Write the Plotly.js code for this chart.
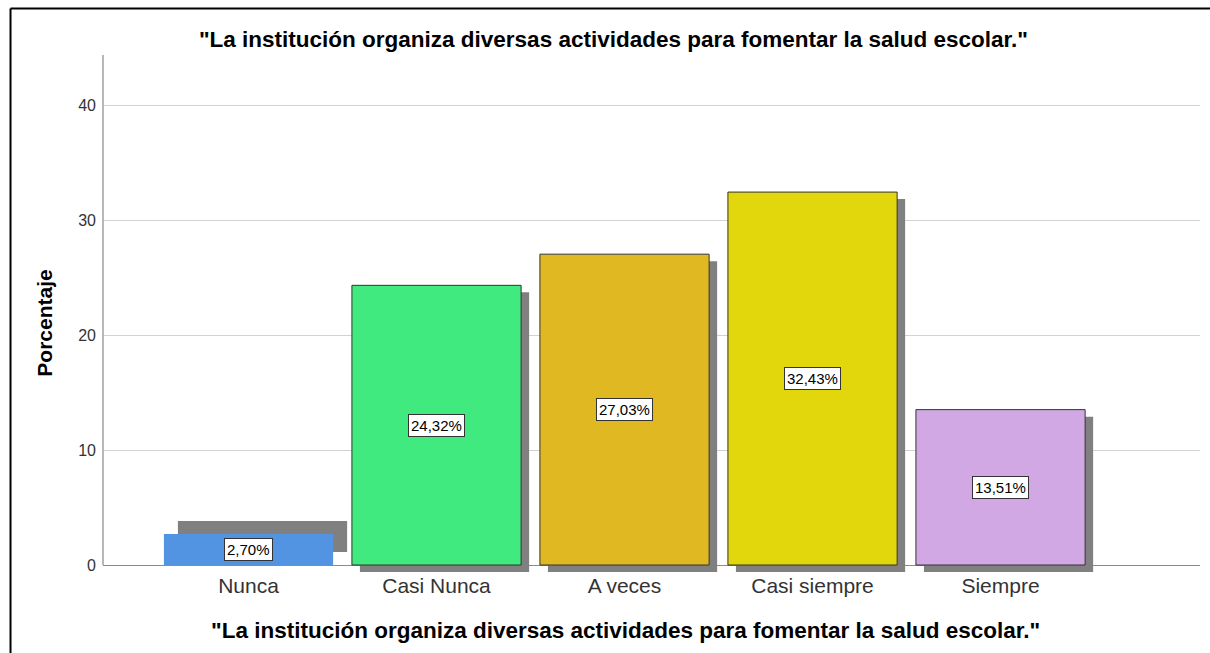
<!DOCTYPE html>
<html>
<head>
<meta charset="utf-8">
<script src="https://cdn.plot.ly/plotly-3.0.1.min.js"></script>
<style>
  html, body { margin: 0; padding: 0; background: #ffffff; }
  #chart { width: 1210px; height: 653px; }
</style>
</head>
<body>
<div id="chart"></div>
<script>
// ---- data ----
const categories = ["Nunca", "Casi Nunca", "A veces", "Casi siempre", "Siempre"];
const percentages = [2.70, 24.32, 27.03, 32.43, 13.51];
const valueLabels = ["2,70%", "24,32%", "27,03%", "32,43%", "13,51%"];
const yTickValues = [0, 10, 20, 30, 40];
const titleText = "\"La institución organiza diversas actividades para fomentar la salud escolar.\"";
const yTitleText = "Porcentaje";

// ---- style ----
const FONT = "Liberation Sans, Arial, sans-serif";
const barColors = ["#5294E2", "#40EA7E", "#E0B922", "#E2D60C", "#D1A8E4"];
const barOutlineWidths = [0, 1, 1, 1, 1];
const barWidth = 0.9;
const pxPerCat = 188;      // approx pixels per category slot
const pxPerUnit = 11.5;    // approx pixels per percentage point
// shadow displacement in pixels (dx right, dy down) per bar, as drawn in the reference
const shadowDx = [14, 8, 8, 8, 8];
const shadowDy = [-13, 7, 7, 7, 7];

const shadowOffsets = shadowDx.map(d => -barWidth / 2 + d / pxPerCat);
const shadowBases = shadowDy.map(d => -d / pxPerUnit);

const shadowTrace = {
  type: "bar",
  x: categories,
  y: percentages,
  base: shadowBases,
  offset: shadowOffsets,
  width: barWidth,
  marker: { color: "#808080", line: { width: 0 } },
  hoverinfo: "skip",
  showlegend: false
};

const mainTrace = {
  type: "bar",
  x: categories,
  y: percentages,
  width: barWidth,
  marker: { color: barColors, line: { color: "#333333", width: barOutlineWidths } },
  showlegend: false
};

const annotations = categories.map((c, i) => ({
  x: c, y: percentages[i] / 2, xref: "x", yref: "y",
  text: valueLabels[i], showarrow: false,
  font: { family: FONT, size: 15, color: "#000000" },
  bgcolor: "#ffffff", bordercolor: "#333333", borderwidth: 1, borderpad: 2
}));

annotations.push({
  text: "<b>" + titleText + "</b>", showarrow: false,
  xref: "paper", yref: "paper", x: 0.476, y: -0.106, xanchor: "center", yanchor: "middle",
  font: { family: FONT, size: 22.5, color: "#000000" }
});
annotations.push({
  text: "<b>" + yTitleText + "</b>", showarrow: false, textangle: -90,
  xref: "paper", yref: "paper", x: -0.053, y: 0.485, xanchor: "center", yanchor: "middle",
  font: { family: FONT, size: 21, color: "#000000" }
});

const layout = {
  width: 1210, height: 653,
  margin: { l: 103, r: 10, t: 55, b: 78, pad: 0 },
  paper_bgcolor: "#ffffff", plot_bgcolor: "#ffffff",
  barmode: "overlay",
  title: {
    text: "<b>" + titleText + "</b>",
    x: 0.507, xref: "container", xanchor: "center",
    y: 1 - 39 / 653, yref: "container", yanchor: "middle",
    font: { family: FONT, size: 22.5, color: "#000000" }
  },
  xaxis: {
    type: "category",
    range: [-0.774, 5.061],
    showgrid: false, showline: false, zeroline: false,
    ticks: "", ticklabelstandoff: -4,
    tickfont: { family: FONT, size: 21, color: "#333333" },
    fixedrange: true
  },
  yaxis: {
    range: [-0.87, 44.35],
    tickvals: yTickValues,
    ticktext: yTickValues.map(String),
    showgrid: true, gridcolor: "#d2d2d2", gridwidth: 1,
    zeroline: true, zerolinecolor: "#8a8a8a", zerolinewidth: 1,
    showline: false, ticks: "", ticklabelstandoff: 6,
    tickfont: { family: FONT, size: 16, color: "#333333" },
    fixedrange: true
  },
  shapes: [
    { type: "line", xref: "paper", yref: "y", x0: 0, x1: 0, y0: 0, y1: 44.35,
      line: { color: "#a0a0a0", width: 1.5 } },
    { type: "line", xref: "paper", yref: "paper", x0: -0.0843, x1: 1.02, y0: 1.0894, y1: 1.0894,
      line: { color: "#000000", width: 2 } },
    { type: "line", xref: "paper", yref: "paper", x0: -0.0843, x1: -0.0843, y0: 1.0894, y1: -0.2,
      line: { color: "#000000", width: 2 } }
  ],
  annotations: annotations,
  showlegend: false,
  hovermode: false
};

Plotly.newPlot("chart", [shadowTrace, mainTrace], layout, { displayModeBar: false, staticPlot: true });
</script>
</body>
</html>
